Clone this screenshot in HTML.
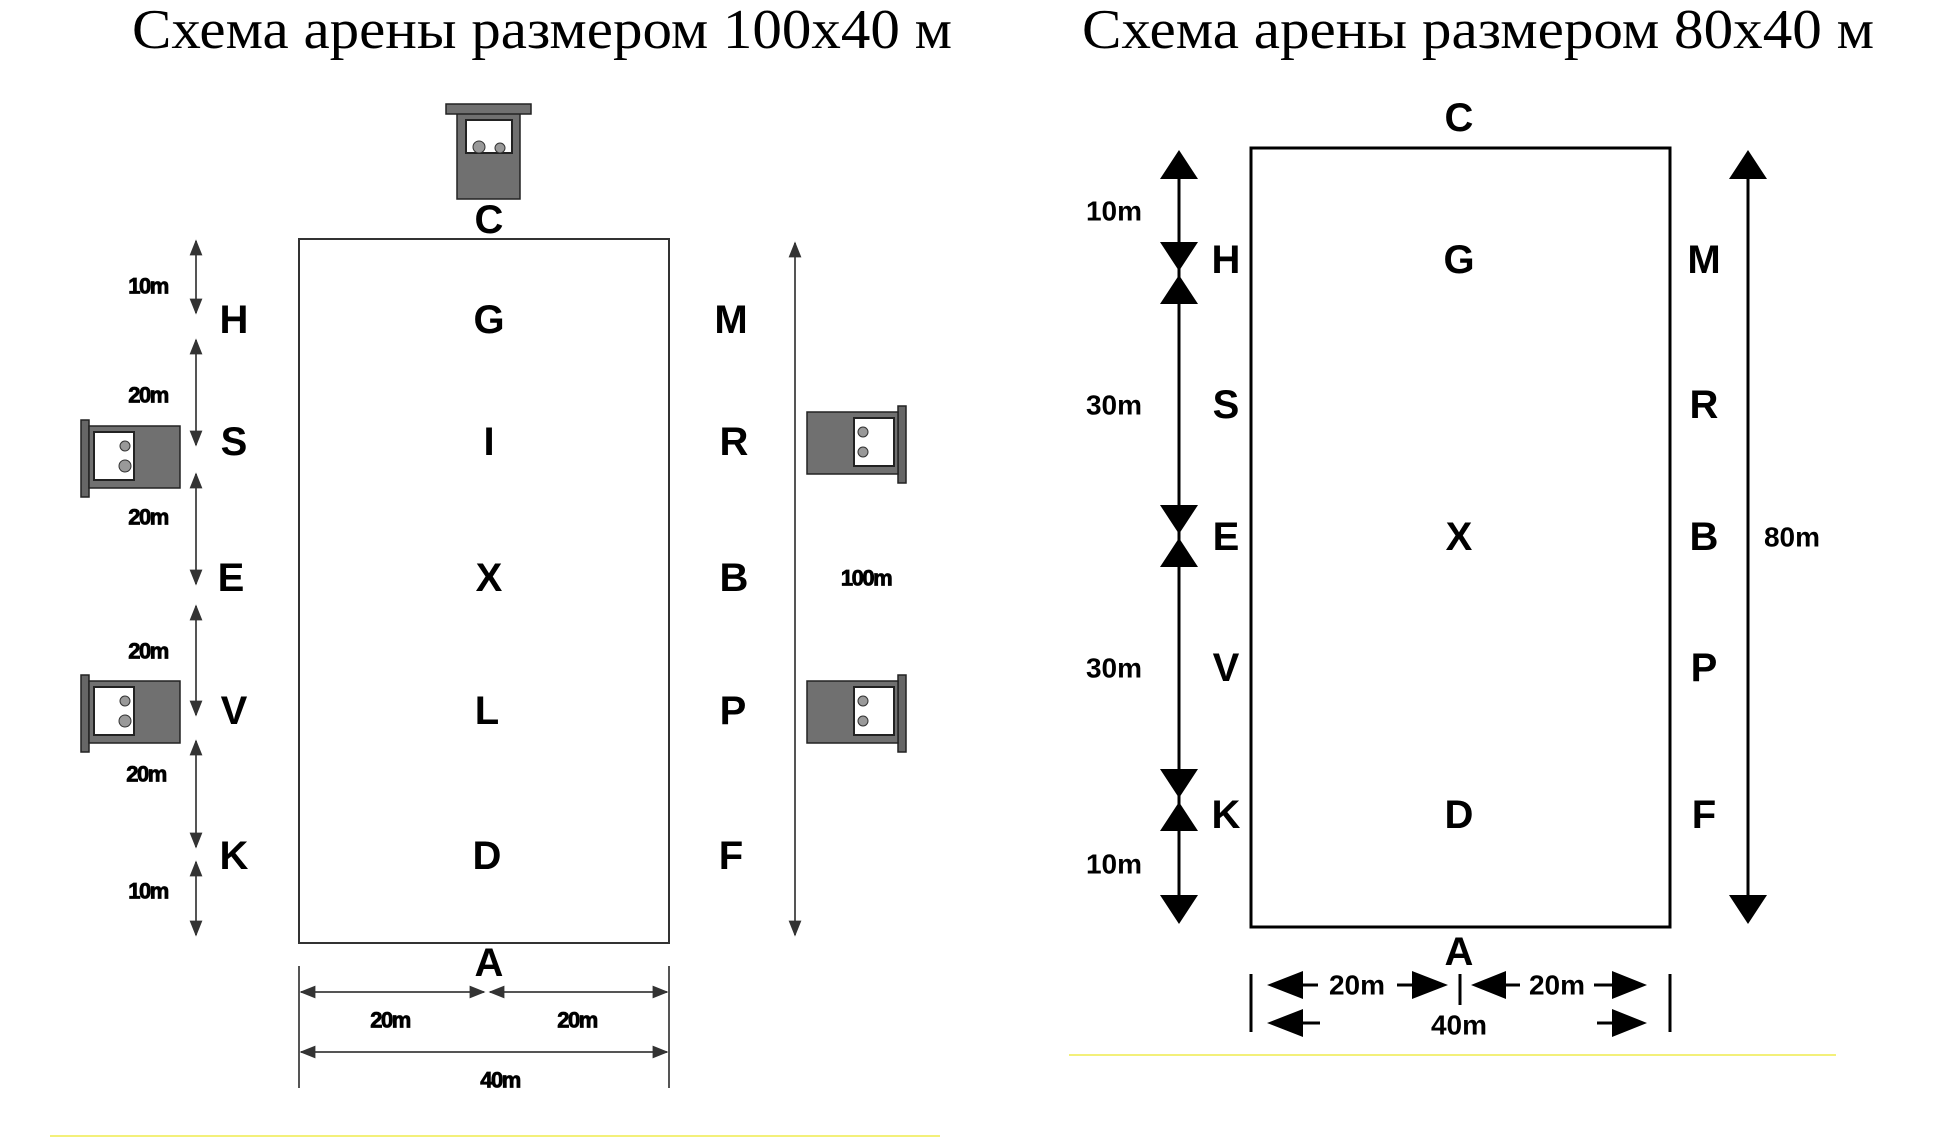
<!DOCTYPE html>
<html><head><meta charset="utf-8"><style>
html,body{margin:0;padding:0;background:#fff;}
svg{display:block;}
.t{font-family:"Liberation Serif","Noto Serif CJK SC",serif;font-size:56px;fill:#000;}
.L{font-family:"Liberation Sans",sans-serif;font-weight:bold;font-size:40px;fill:#000;text-anchor:middle;dominant-baseline:central;}
.s{font-family:"Liberation Sans",sans-serif;font-weight:bold;font-size:22px;fill:#000;stroke:#000;stroke-width:0.8px;text-anchor:middle;dominant-baseline:central;letter-spacing:-1.5px;}
.m{font-family:"Liberation Sans",sans-serif;font-weight:bold;font-size:28px;fill:#000;text-anchor:middle;dominant-baseline:central;}
</style></head><body>
<svg width="1950" height="1144" viewBox="0 0 1950 1144" xmlns="http://www.w3.org/2000/svg">
<defs>
<marker id="a" viewBox="0 0 10 10" refX="9" refY="5" markerWidth="8" markerHeight="8" orient="auto-start-reverse"><path d="M0,1 L10,5 L0,9 z" fill="#333"/></marker>
<g id="boothL">
<rect x="0" y="0" width="8" height="77" fill="#666" stroke="#222" stroke-width="1.5"/>
<rect x="8" y="6" width="91" height="62" fill="#707070" stroke="#222" stroke-width="1.5"/>
<rect x="13" y="12" width="40" height="48" fill="#fff" stroke="#222" stroke-width="2"/>
<circle cx="44" cy="26" r="5" fill="#999" stroke="#333"/>
<circle cx="44" cy="46" r="6" fill="#999" stroke="#333"/>
</g>
<g id="boothR">
<rect x="92" y="0" width="8" height="77" fill="#666" stroke="#222" stroke-width="1.5"/>
<rect x="1" y="6" width="91" height="62" fill="#707070" stroke="#222" stroke-width="1.5"/>
<rect x="48" y="12" width="40" height="48" fill="#fff" stroke="#222" stroke-width="2"/>
<circle cx="57" cy="26" r="5" fill="#999" stroke="#333"/>
<circle cx="57" cy="46" r="5" fill="#999" stroke="#333"/>
</g>
</defs>

<text class="t" x="132" y="48" textLength="820" lengthAdjust="spacingAndGlyphs">Схема арены размером 100х40 м</text>
<text class="t" x="1082" y="48" textLength="792" lengthAdjust="spacingAndGlyphs">Схема арены размером 80х40 м</text>

<!-- LEFT DIAGRAM -->
<rect x="299" y="239" width="370" height="704" fill="none" stroke="#333" stroke-width="2"/>
<!-- top booth -->
<rect x="457" y="113" width="63" height="86" fill="#707070" stroke="#222" stroke-width="1.5"/>
<rect x="446" y="104" width="85" height="10" fill="#707070" stroke="#222" stroke-width="1.5"/>
<rect x="466" y="120" width="46" height="33" fill="#fff" stroke="#222" stroke-width="2"/>
<circle cx="479" cy="147" r="6" fill="#999" stroke="#333"/>
<circle cx="500" cy="148" r="5" fill="#999" stroke="#333"/>
<use href="#boothL" x="81" y="420"/>
<use href="#boothL" x="81" y="675"/>
<use href="#boothR" x="806" y="406"/>
<use href="#boothR" x="806" y="675"/>

<text class="L" x="489" y="220">C</text>
<text class="L" x="489" y="963">A</text>
<g>
<text class="L" x="234" y="320">H</text><text class="L" x="489" y="320">G</text><text class="L" x="731" y="320">M</text>
<text class="L" x="234" y="442">S</text><text class="L" x="489" y="442">I</text><text class="L" x="734" y="442">R</text>
<text class="L" x="231" y="578">E</text><text class="L" x="489" y="578">X</text><text class="L" x="734" y="578">B</text>
<text class="L" x="234" y="711">V</text><text class="L" x="487" y="711">L</text><text class="L" x="733" y="711">P</text>
<text class="L" x="234" y="856">K</text><text class="L" x="487" y="856">D</text><text class="L" x="731" y="856">F</text>
</g>
<g stroke="#555" stroke-width="2" marker-start="url(#a)" marker-end="url(#a)">
<line x1="196" y1="241" x2="196" y2="313"/>
<line x1="196" y1="340" x2="196" y2="445"/>
<line x1="196" y1="474" x2="196" y2="584"/>
<line x1="196" y1="606" x2="196" y2="715"/>
<line x1="196" y1="741" x2="196" y2="847"/>
<line x1="196" y1="862" x2="196" y2="935"/>
<line x1="795" y1="243" x2="795" y2="935"/>
<line x1="301" y1="992" x2="484" y2="992"/>
<line x1="490" y1="992" x2="667" y2="992"/>
<line x1="301" y1="1052" x2="667" y2="1052"/>
</g>
<g stroke="#555" stroke-width="2">
<line x1="299" y1="966" x2="299" y2="1088"/>
<line x1="669" y1="966" x2="669" y2="1088"/>
</g>
<text class="s" x="148" y="286">10m</text>
<text class="s" x="148" y="395">20m</text>
<text class="s" x="148" y="517">20m</text>
<text class="s" x="148" y="651">20m</text>
<text class="s" x="146" y="774">20m</text>
<text class="s" x="148" y="891">10m</text>
<text class="s" x="866" y="578">100m</text>
<text class="s" x="390" y="1020">20m</text>
<text class="s" x="577" y="1020">20m</text>
<text class="s" x="500" y="1080">40m</text>
<line x1="50" y1="1136" x2="940" y2="1136" stroke="#f3f07a" stroke-width="2"/>

<!-- RIGHT DIAGRAM -->
<rect x="1251" y="148" width="419" height="779" fill="none" stroke="#000" stroke-width="3"/>
<text class="L" x="1459" y="118">C</text>
<text class="L" x="1459" y="952">A</text>
<text class="L" x="1226" y="260">H</text><text class="L" x="1459" y="260">G</text><text class="L" x="1704" y="260">M</text>
<text class="L" x="1226" y="405">S</text><text class="L" x="1704" y="405">R</text>
<text class="L" x="1226" y="537">E</text><text class="L" x="1459" y="537">X</text><text class="L" x="1704" y="537">B</text>
<text class="L" x="1226" y="668">V</text><text class="L" x="1704" y="668">P</text>
<text class="L" x="1226" y="815">K</text><text class="L" x="1459" y="815">D</text><text class="L" x="1704" y="815">F</text>

<g stroke="#000" stroke-width="3">
<line x1="1179" y1="170" x2="1179" y2="905"/>
<line x1="1748" y1="170" x2="1748" y2="905"/>
</g>
<g fill="#000">
<path d="M1179,150 L1198,179 L1160,179 z"/>
<path d="M1179,271 L1198,242 L1160,242 z"/>
<path d="M1179,275 L1198,304 L1160,304 z"/>
<path d="M1179,534 L1198,505 L1160,505 z"/>
<path d="M1179,538 L1198,567 L1160,567 z"/>
<path d="M1179,798 L1198,769 L1160,769 z"/>
<path d="M1179,802 L1198,831 L1160,831 z"/>
<path d="M1179,924 L1198,895 L1160,895 z"/>
<path d="M1748,150 L1767,179 L1729,179 z"/>
<path d="M1748,924 L1767,895 L1729,895 z"/>
<path d="M1267,985 L1303,971 L1303,999 z"/>
<path d="M1448,985 L1412,971 L1412,999 z"/>
<path d="M1471,985 L1506,971 L1506,999 z"/>
<path d="M1647,985 L1612,971 L1612,999 z"/>
<path d="M1267,1023 L1303,1009 L1303,1037 z"/>
<path d="M1647,1023 L1612,1009 L1612,1037 z"/>
</g>
<g stroke="#000" stroke-width="3">
<line x1="1300" y1="985" x2="1318" y2="985"/>
<line x1="1397" y1="985" x2="1415" y2="985"/>
<line x1="1503" y1="985" x2="1520" y2="985"/>
<line x1="1594" y1="985" x2="1615" y2="985"/>
<line x1="1300" y1="1023" x2="1320" y2="1023"/>
<line x1="1597" y1="1023" x2="1615" y2="1023"/>
<line x1="1251" y1="974" x2="1251" y2="1032"/>
<line x1="1670" y1="974" x2="1670" y2="1032"/>
<line x1="1460" y1="974" x2="1460" y2="1005"/>
</g>
<text class="m" x="1114" y="211">10m</text>
<text class="m" x="1114" y="405">30m</text>
<text class="m" x="1114" y="668">30m</text>
<text class="m" x="1114" y="864">10m</text>
<text class="m" x="1792" y="537">80m</text>
<text class="m" x="1357" y="985">20m</text>
<text class="m" x="1557" y="985">20m</text>
<text class="m" x="1459" y="1025">40m</text>
<line x1="1069" y1="1055" x2="1836" y2="1055" stroke="#f3f07a" stroke-width="2"/>
</svg>
</body></html>
